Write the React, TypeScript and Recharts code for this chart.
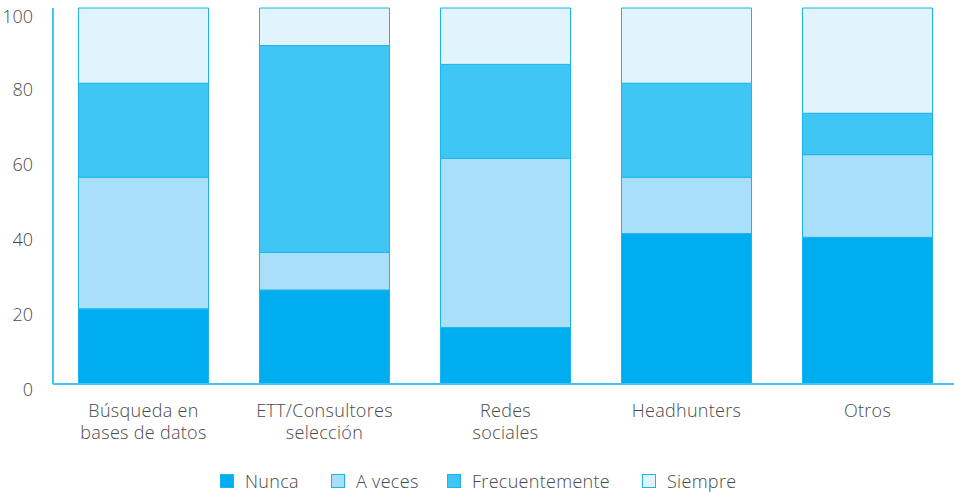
import { BarChart, Bar, XAxis, YAxis, Legend } from 'recharts'

const categorias = ['Búsqueda en\nbases de datos', 'ETT/Consultores\nselección', 'Redes\nsociales', 'Headhunters', 'Otros']
const nunca = [20, 25, 15, 40, 39]
const aVeces = [35, 10, 45, 15, 22]
const frecuentemente = [25, 55, 25, 25, 11]
const siempre = [20, 10, 15, 20, 28]
const yTicks = [0, 20, 40, 60, 80, 100]

const SERIES = [
  { key: 'nunca', name: 'Nunca', color: '#00aeef' },
  { key: 'aVeces', name: 'A veces', color: '#aadff9' },
  { key: 'frecuentemente', name: 'Frecuentemente', color: '#40c6f4' },
  { key: 'siempre', name: 'Siempre', color: '#e1f4fc' },
]

const data = categorias.map((c, i) => ({
  cat: c,
  nunca: nunca[i],
  aVeces: aVeces[i],
  frecuentemente: frecuentemente[i],
  siempre: siempre[i],
}))

const FONT = '"Open Sans", Lato, sans-serif'
const TEXT = '#4a4a4a'
const LINE = '#40c6f4'

function XTick({ x, y, payload }: any) {
  const lines = String(payload.value).split('\n')
  return (
    <text x={x} y={y} textAnchor="middle" fill={TEXT} fontSize={18} fontFamily={FONT} fontWeight={300} letterSpacing={0.3}>
      {lines.map((l, i) => (
        <tspan key={i} x={x} dy={i === 0 ? 25 : 22}>{l}</tspan>
      ))}
    </text>
  )
}

function LegendContent() {
  const pos = [220, 331, 447, 642]
  return (
    <div style={{ position: 'relative', height: 24, fontFamily: FONT, fontWeight: 300, fontSize: 18, letterSpacing: 0.3, color: TEXT }}>
      {SERIES.map((s, i) => (
        <div key={s.key} style={{ position: 'absolute', left: pos[i], top: 0, display: 'flex', alignItems: 'center', whiteSpace: 'nowrap' }}>
          <span style={{ width: 14, height: 14, background: s.color, border: '1px solid #1ab4ee', boxSizing: 'border-box', display: 'inline-block', marginRight: 11 }} />
          {s.name}
        </div>
      ))}
    </div>
  )
}

export default function App() {
  return (
    <div style={{ position: 'absolute', left: 0, top: 0, width: 954, height: 493, background: '#fff', overflow: 'hidden' }}>
      <BarChart width={962} height={493} data={data} margin={{ top: 8, right: 4, bottom: 0, left: 0 }} barCategoryGap={25.5}>
        <XAxis
          dataKey="cat"
          interval={0}
          tickLine={false}
          axisLine={{ stroke: LINE, strokeWidth: 2 }}
          tick={<XTick />}
          height={85}
        />
        <YAxis
          domain={[0, 100]}
          ticks={yTicks}
          tickLine={false}
          axisLine={{ stroke: LINE, strokeWidth: 2 }}
          tick={{ fill: TEXT, fontSize: 18, fontFamily: FONT, fontWeight: 300, dy: 6 }}
          tickMargin={14}
          width={53}
        />
        <Legend content={<LegendContent />} verticalAlign="bottom" wrapperStyle={{ left: 0, bottom: 0, width: 954 }} />
        {SERIES.map(s => (
          <Bar
            key={s.key}
            dataKey={s.key}
            name={s.name}
            stackId="a"
            fill={s.color}
            stroke="#1ab4ee"
            strokeWidth={1}
            isAnimationActive={false}
          />
        ))}
      </BarChart>
    </div>
  )
}
